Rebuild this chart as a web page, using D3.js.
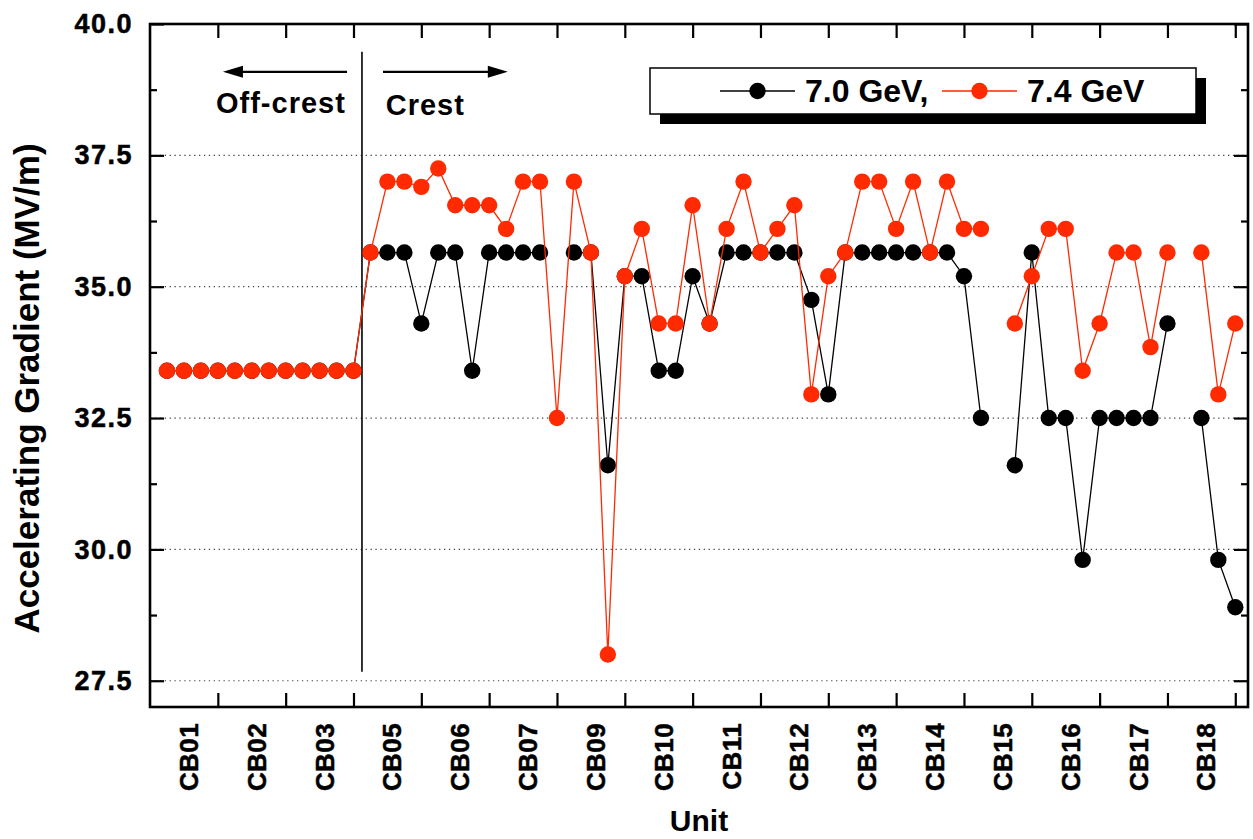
<!DOCTYPE html>
<html>
<head>
<meta charset="utf-8">
<script src="https://cdn.jsdelivr.net/npm/d3@7/dist/d3.min.js"></script>
<style>
  html, body { margin: 0; padding: 0; background: #fff; }
  svg { display: block; }
  text { font-family: "Liberation Sans", Arial, Helvetica, sans-serif; font-weight: bold; }
</style>
</head>
<body>
<svg id="chart" width="1253" height="839"></svg>
<script>
// Cryomodule units along the linac (4 cavities per unit)
const units = ["CB01", "CB02", "CB03", "CB05", "CB06", "CB07", "CB09", "CB10",
               "CB11", "CB12", "CB13", "CB14", "CB15", "CB16", "CB17", "CB18"];

// Accelerating gradient per cavity (MV/m), null = no data
const gradient70 = [
  33.4, 33.4, 33.4, 33.4, 33.4, 33.4, 33.4, 33.4, 33.4, 33.4, 33.4, 33.4,
  35.65, 35.65, 35.65, 34.3, 35.65, 35.65, 33.4, 35.65, 35.65, 35.65, 35.65, null,
  35.65, 35.65, 31.6, 35.2, 35.2, 33.4, 33.4, 35.2, 34.3, 35.65, 35.65, 35.65,
  35.65, 35.65, 34.75, 32.95, 35.65, 35.65, 35.65, 35.65, 35.65, 35.65, 35.65, 35.2,
  32.5, null, 31.6, 35.65, 32.5, 32.5, 29.8, 32.5, 32.5, 32.5, 32.5, 34.3,
  null, 32.5, 29.8, 28.9
];
const gradient74 = [
  33.4, 33.4, 33.4, 33.4, 33.4, 33.4, 33.4, 33.4, 33.4, 33.4, 33.4, 33.4,
  35.65, 37.0, 37.0, 36.9, 37.25, 36.55, 36.55, 36.55, 36.1, 37.0, 37.0, 32.5,
  37.0, 35.65, 28.0, 35.2, 36.1, 34.3, 34.3, 36.55, 34.3, 36.1, 37.0, 35.65,
  36.1, 36.55, 32.95, 35.2, 35.65, 37.0, 37.0, 36.1, 37.0, 35.65, 37.0, 36.1,
  36.1, null, 34.3, 35.2, 36.1, 36.1, 33.4, 34.3, 35.65, 35.65, 33.85, 35.65,
  null, 35.65, 32.95, 34.3
];

const seriesNames = ["7.0 GeV,", "7.4 GeV"];
const seriesColors = ["#000000", "#ff2a00"];

const yMajorTicks = [27.5, 30.0, 32.5, 35.0, 37.5, 40.0];
const yMinorTicks = [28.75, 31.25, 33.75, 36.25, 38.75];
const xTicks = d3.range(4, 65, 4);

// Off-crest / crest boundary and annotations (data units)
const boundaryIndex = 12.5;
const boundarySpan = [39.47, 27.67];
const arrowLeft = { from: 11.62, to: 4.3, v: 39.09 };
const arrowRight = { from: 13.74, to: 21.1, v: 39.09 };

const svg = d3.select("#chart");
const plot = { left: 150, right: 1248, top: 24, bottom: 707 };

const x = d3.scaleLinear().domain([0, 64.75]).range([plot.left, plot.right]);
const y = d3.scaleLinear().domain([27, 40]).range([plot.bottom, plot.top]);

// dotted grid lines
svg.append("g").selectAll("line")
  .data(yMajorTicks.filter(v => v < 40))
  .join("line")
  .attr("x1", plot.left).attr("x2", plot.right)
  .attr("y1", d => y(d)).attr("y2", d => y(d))
  .attr("stroke", "#444").attr("stroke-width", 1.2)
  .attr("stroke-dasharray", "1.3,3.6");

// axes with inward ticks
function cleanAxis(g) { g.select(".domain").remove(); g.selectAll("line").attr("stroke", "#000").attr("stroke-width", 2.2); }

svg.append("g").attr("transform", `translate(${plot.left},0)`)
  .call(d3.axisLeft(y).tickValues(yMajorTicks).tickSize(-14).tickPadding(17).tickFormat(d3.format(".1f")))
  .call(cleanAxis)
  .call(g => g.selectAll("text")
    .attr("font-size", 27).attr("fill", "#000")
    .attr("stroke", "#000").attr("stroke-width", 0.5)
    .attr("letter-spacing", "1.5px")
    .attr("font-family", "'Liberation Sans', Arial, sans-serif").attr("font-weight", "bold"));
svg.append("g").attr("transform", `translate(${plot.left},0)`)
  .call(d3.axisLeft(y).tickValues(yMinorTicks).tickSize(-7).tickFormat(""))
  .call(cleanAxis);
svg.append("g").attr("transform", `translate(${plot.right},0)`)
  .call(d3.axisRight(y).tickValues(yMajorTicks).tickSize(-14).tickFormat(""))
  .call(cleanAxis);
svg.append("g").attr("transform", `translate(${plot.right},0)`)
  .call(d3.axisRight(y).tickValues(yMinorTicks).tickSize(-7).tickFormat(""))
  .call(cleanAxis);
svg.append("g").attr("transform", `translate(0,${plot.bottom})`)
  .call(d3.axisBottom(x).tickValues(xTicks).tickSize(-14).tickFormat(""))
  .call(cleanAxis);
svg.append("g").attr("transform", `translate(0,${plot.top})`)
  .call(d3.axisTop(x).tickValues(xTicks).tickSize(-14).tickFormat(""))
  .call(cleanAxis);

// unit labels, rotated, one per group of four cavities
svg.append("g").selectAll("text")
  .data(units)
  .join("text")
  .attr("transform", (d, i) => `translate(${x(4 * (i + 1) - 1.7)},${plot.bottom + 16}) rotate(-90)`)
  .attr("text-anchor", "end")
  .attr("dominant-baseline", "central")
  .attr("font-size", 26)
  .attr("stroke", "#000").attr("stroke-width", 0.5)
  .attr("letter-spacing", "0.4px")
  .text(d => d);

// boundary line between off-crest and crest operation
svg.append("line")
  .attr("x1", x(boundaryIndex)).attr("x2", x(boundaryIndex))
  .attr("y1", y(boundarySpan[0])).attr("y2", y(boundarySpan[1]))
  .attr("stroke", "#000").attr("stroke-width", 1.6);

// arrows
function arrow(a) {
  const x0 = x(a.from), x1 = x(a.to), yy = y(a.v);
  const dir = Math.sign(x1 - x0), head = 20, hw = 6;
  svg.append("line").attr("x1", x0).attr("x2", x1 - dir * head * 0.8)
    .attr("y1", yy).attr("y2", yy).attr("stroke", "#000").attr("stroke-width", 2.2);
  svg.append("path")
    .attr("d", `M${x1},${yy} L${x1 - dir * head},${yy - hw} L${x1 - dir * head},${yy + hw} Z`)
    .attr("fill", "#000");
}
arrow(arrowLeft);
arrow(arrowRight);

svg.append("text").attr("x", x(11.55)).attr("y", y(38.31))
  .attr("text-anchor", "end").attr("font-size", 29).attr("letter-spacing", "1px")
  .text("Off-crest");
svg.append("text").attr("x", x(13.9)).attr("y", y(38.27))
  .attr("font-size", 29).attr("letter-spacing", "1px")
  .text("Crest");

// data series: lines with gaps, filled circle markers
const series = [gradient70, gradient74];
series.forEach((vals, s) => {
  const pts = vals.map((v, i) => ({ i: i + 1, v }));
  const line = d3.line().defined(d => d.v != null).x(d => x(d.i)).y(d => y(d.v));
  const g = svg.append("g");
  g.append("path").datum(pts).attr("d", line)
    .attr("fill", "none").attr("stroke", seriesColors[s]).attr("stroke-width", 1.3);
  g.selectAll("circle").data(pts.filter(d => d.v != null)).join("circle")
    .attr("cx", d => x(d.i)).attr("cy", d => y(d.v)).attr("r", 8.2)
    .attr("fill", seriesColors[s]);
});

// frame
svg.append("rect")
  .attr("x", plot.left).attr("y", plot.top)
  .attr("width", plot.right - plot.left).attr("height", plot.bottom - plot.top)
  .attr("fill", "none").attr("stroke", "#000").attr("stroke-width", 2.6);

// legend with drop shadow
const lg = svg.append("g");
lg.append("rect").attr("x", 660).attr("y", 78).attr("width", 546).attr("height", 46).attr("fill", "#000");
lg.append("rect").attr("x", 650).attr("y", 68).attr("width", 546).attr("height", 46)
  .attr("fill", "#fff").attr("stroke", "#000").attr("stroke-width", 1.5);
const legendItems = [
  { x0: 720, x1: 795, tx: 805 },
  { x0: 942, x1: 1017, tx: 1027 }
];
legendItems.forEach((it, s) => {
  lg.append("line").attr("x1", it.x0).attr("x2", it.x1).attr("y1", 91).attr("y2", 91)
    .attr("stroke", seriesColors[s]).attr("stroke-width", 1.3);
  lg.append("circle").attr("cx", (it.x0 + it.x1) / 2).attr("cy", 91).attr("r", 8.2).attr("fill", seriesColors[s]);
  lg.append("text").attr("x", it.tx).attr("y", 102).attr("font-size", 32).text(seriesNames[s]);
});

// axis titles
svg.append("text")
  .attr("transform", `translate(39,${(plot.top + plot.bottom) / 2 + 23}) rotate(-90)`)
  .attr("text-anchor", "middle").attr("font-size", 35)
  .text("Accelerating Gradient (MV/m)");
svg.append("text")
  .attr("x", (plot.left + plot.right) / 2).attr("y", 831)
  .attr("text-anchor", "middle").attr("font-size", 30)
  .text("Unit");
</script>
</body>
</html>
